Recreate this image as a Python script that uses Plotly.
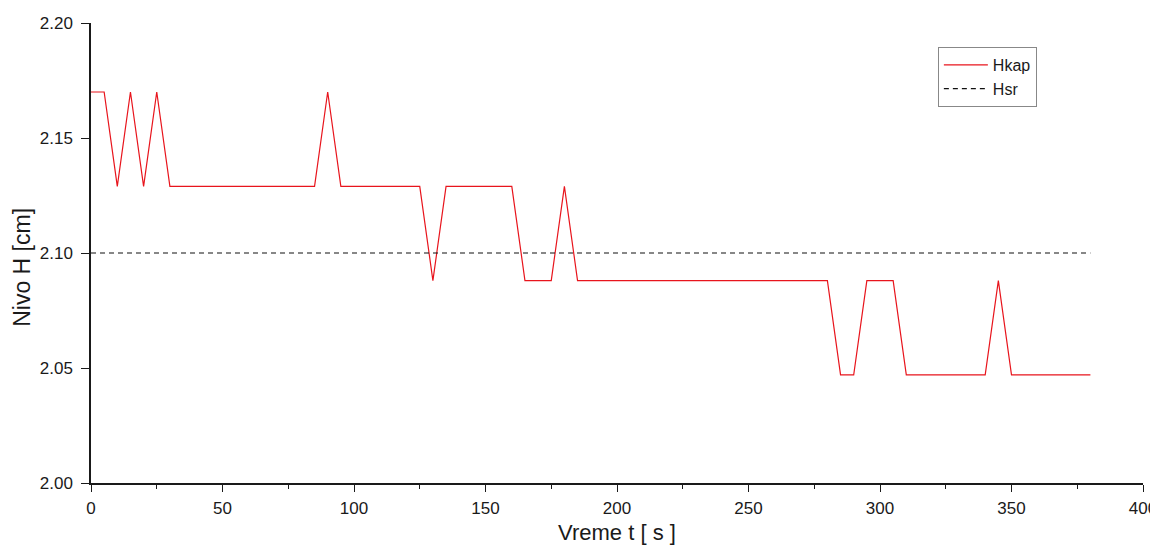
import plotly.graph_objects as go

t = [0, 5, 10, 15, 20, 25, 30, 35, 40, 45, 50, 55, 60, 65, 70, 75, 80, 85, 90, 95,
     100, 105, 110, 115, 120, 125, 130, 135, 140, 145, 150, 155, 160, 165, 170, 175,
     180, 185, 190, 195, 200, 205, 210, 215, 220, 225, 230, 235, 240, 245, 250, 255,
     260, 265, 270, 275, 280, 285, 290, 295, 300, 305, 310, 315, 320, 325, 330, 335,
     340, 345, 350, 355, 360, 365, 370, 375, 380]
hkap = [2.170, 2.170, 2.129, 2.170, 2.129, 2.170, 2.129, 2.129, 2.129, 2.129, 2.129,
        2.129, 2.129, 2.129, 2.129, 2.129, 2.129, 2.129, 2.170, 2.129,
        2.129, 2.129, 2.129, 2.129, 2.129, 2.129, 2.088, 2.129, 2.129, 2.129, 2.129,
        2.129, 2.129, 2.088, 2.088, 2.088,
        2.129, 2.088, 2.088, 2.088, 2.088, 2.088, 2.088, 2.088, 2.088, 2.088, 2.088,
        2.088, 2.088, 2.088, 2.088, 2.088,
        2.088, 2.088, 2.088, 2.088, 2.088, 2.047, 2.047, 2.088, 2.088, 2.088, 2.047,
        2.047, 2.047, 2.047, 2.047, 2.047,
        2.047, 2.088, 2.047, 2.047, 2.047, 2.047, 2.047, 2.047, 2.047]
hsr_t = [0, 380]
hsr = [2.10, 2.10]

x_ticks = [0, 50, 100, 150, 200, 250, 300, 350, 400]
y_ticks = [2.00, 2.05, 2.10, 2.15, 2.20]

fig = go.Figure()
fig.add_trace(go.Scatter(x=t, y=hkap, mode="lines", name="Hkap",
                         line=dict(color="#e8141c", width=1.2)))
fig.add_trace(go.Scatter(x=hsr_t, y=hsr, mode="lines", name="Hsr",
                         line=dict(color="#111111", width=1.2, dash="5px,4px")))

font = "Liberation Sans, Arial, sans-serif"
fig.update_layout(
    width=1150, height=537,
    margin=dict(l=83, r=15, t=15, b=62, autoexpand=False),
    plot_bgcolor="white", paper_bgcolor="white",
    font=dict(family=font, color="#1a1a1a", size=17),
    showlegend=True,
    legend=dict(x=0.805, y=0.948, xanchor="left", yanchor="top",
                bgcolor="white", bordercolor="#888888", borderwidth=1,
                font=dict(size=16), tracegroupgap=0, itemwidth=44),
    xaxis=dict(range=[0, 400], tickvals=x_ticks, ticktext=[str(v) for v in x_ticks],
               automargin=False, ticklabeloverflow="allow",
               showgrid=False, zeroline=False, showline=True, linecolor="#1a1a1a",
               linewidth=1.5, ticks="outside", ticklen=7, tickwidth=1.3,
               tickcolor="#1a1a1a", ticklabelstandoff=2,
               minor=dict(ticks="outside", ticklen=4, tickwidth=1.3, tickcolor="#1a1a1a",
                          dtick=25, tick0=0, showgrid=False),
               title=dict(text="Vreme t [ s ]", font=dict(size=22), standoff=15)),
    yaxis=dict(range=[2.0, 2.2], tickvals=y_ticks, ticktext=[f"{v:.2f}" for v in y_ticks],
               automargin=False, ticklabeloverflow="allow",
               showgrid=False, zeroline=False, showline=True, linecolor="#1a1a1a",
               linewidth=1.5, ticks="outside", ticklen=8, tickwidth=1.3,
               tickcolor="#1a1a1a", ticklabelstandoff=5),
    annotations=[dict(text="Nivo H [cm]", xref="paper", yref="paper",
                      x=-0.0656, y=0.47, xanchor="center", yanchor="middle",
                      textangle=-90, showarrow=False, font=dict(size=23))],
)

fig.write_html("out.html")
